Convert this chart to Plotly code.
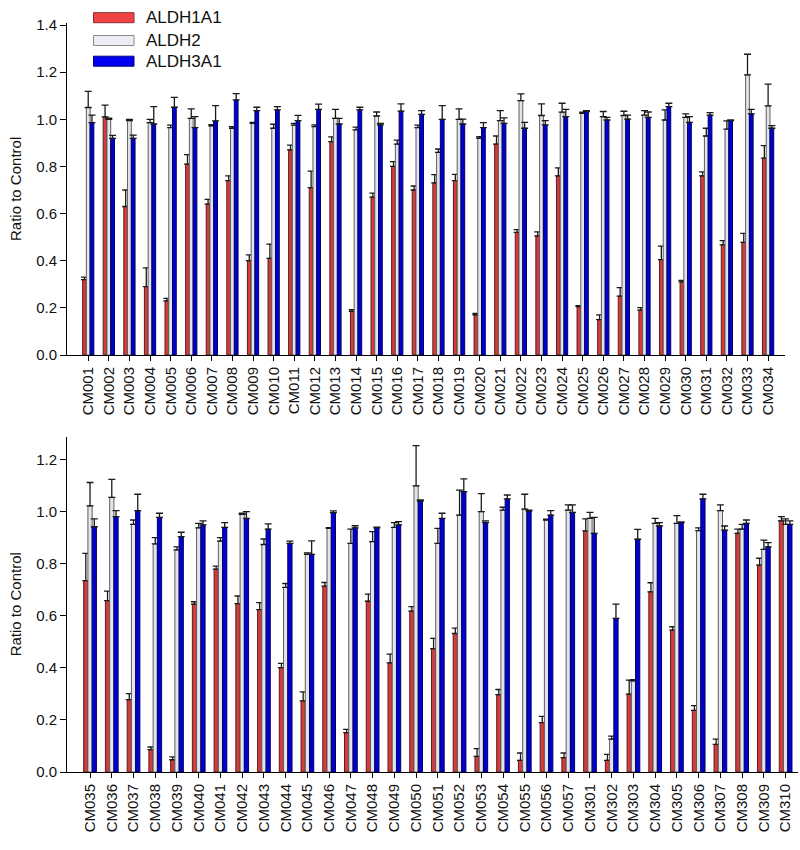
import plotly.graph_objects as go

# ---------------- data ----------------
cats_top = ["CM0%02d" % i for i in range(1, 35)]
aldh1a1_top = [0.32, 1.01, 0.63, 0.29, 0.23, 0.81, 0.64, 0.74, 0.40, 0.41, 0.87, 0.71,
               0.905, 0.185, 0.67, 0.80, 0.70, 0.73, 0.74, 0.17, 0.895, 0.52, 0.505, 0.76,
               0.205, 0.15, 0.25, 0.19, 0.405, 0.31, 0.76, 0.467, 0.478, 0.835]
aldh1a1_top_err = [0.01, 0.05, 0.07, 0.08, 0.01, 0.04, 0.02, 0.02, 0.025, 0.06, 0.02, 0.07,
                   0.02, 0.007, 0.017, 0.02, 0.017, 0.035, 0.026, 0.006, 0.034, 0.012, 0.017, 0.034,
                   0.004, 0.02, 0.036, 0.011, 0.057, 0.007, 0.017, 0.018, 0.038, 0.053]
aldh2_top = [1.05, 1.00, 0.994, 0.986, 0.965, 1.004, 0.972, 0.962, 0.983, 0.962, 0.975, 0.969,
             1.004, 0.955, 1.014, 0.895, 0.965, 0.86, 1.00, 0.919, 0.994, 1.079, 1.016, 1.03,
             1.025, 1.011, 1.016, 1.018, 0.997, 1.008, 0.929, 0.958, 1.188, 1.057]
aldh2_top_err = [0.068, 0.005, 0.006, 0.014, 0.01, 0.04, 0.005, 0.007, 0.004, 0.017, 0.008, 0.007,
                 0.038, 0.012, 0.017, 0.017, 0.01, 0.014, 0.044, 0.007, 0.043, 0.029, 0.049, 0.038,
                 0.005, 0.022, 0.018, 0.019, 0.043, 0.015, 0.033, 0.035, 0.088, 0.092]
aldh3a1_top = [0.986, 0.919, 0.919, 0.98, 1.051, 0.965, 0.993, 1.082, 1.037, 1.04, 0.994, 1.042,
               0.98, 1.04, 0.976, 1.035, 1.021, 1.00, 0.98, 0.965, 0.983, 0.962, 0.976, 1.011,
               1.033, 0.997, 1.001, 1.008, 1.054, 0.987, 1.018, 0.994, 1.023, 0.962]
aldh3a1_top_err = [0.032, 0.013, 0.014, 0.074, 0.042, 0.046, 0.065, 0.027, 0.014, 0.014, 0.023, 0.022,
                   0.024, 0.011, 0.007, 0.03, 0.016, 0.058, 0.021, 0.021, 0.023, 0.025, 0.018, 0.031,
                   0.004, 0.011, 0.017, 0.023, 0.014, 0.024, 0.01, 0.003, 0.019, 0.011]

cats_bot = ["CM0%02d" % i for i in range(35, 58)] + ["CM3%02d" % i for i in range(1, 11)]
aldh1a1_bot = [0.735, 0.658, 0.278, 0.086, 0.047, 0.645, 0.779, 0.647, 0.624, 0.401, 0.273,
               0.714, 0.151, 0.656, 0.419, 0.618, 0.474, 0.532, 0.06, 0.297, 0.045, 0.19, 0.055,
               0.926, 0.045, 0.299, 0.692, 0.545, 0.237, 0.106, 0.917, 0.795, 0.965]
aldh1a1_bot_err = [0.105, 0.037, 0.023, 0.01, 0.011, 0.009, 0.012, 0.029, 0.027, 0.016, 0.035,
                   0.014, 0.013, 0.027, 0.034, 0.017, 0.039, 0.021, 0.03, 0.02, 0.028, 0.024, 0.018,
                   0.046, 0.023, 0.054, 0.035, 0.013, 0.018, 0.02, 0.016, 0.026, 0.016]
aldh2_bot = [1.022, 1.055, 0.951, 0.876, 0.853, 0.938, 0.887, 0.99, 0.874, 0.709, 0.836,
             0.936, 0.878, 0.885, 0.94, 1.099, 0.878, 0.987, 1.0, 1.006, 1.01, 0.968, 1.006,
             0.974, 0.126, 0.35, 0.955, 0.955, 0.927, 1.004, 0.933, 0.855, 0.951]
aldh2_bot_err = [0.09, 0.069, 0.017, 0.024, 0.012, 0.017, 0.013, 0.004, 0.021, 0.015, 0.006,
                 0.003, 0.055, 0.038, 0.018, 0.155, 0.058, 0.096, 0.069, 0.011, 0.057, 0.003, 0.02,
                 0.023, 0.012, 0.005, 0.019, 0.03, 0.011, 0.022, 0.018, 0.036, 0.021]
aldh3a1_bot = [0.942, 0.981, 1.004, 0.978, 0.904, 0.949, 0.94, 0.974, 0.933, 0.878, 0.836,
               0.996, 0.938, 0.938, 0.949, 1.041, 0.974, 1.077, 0.958, 1.049, 1.003, 0.987, 0.997,
               0.917, 0.59, 0.894, 0.945, 0.958, 1.049, 0.929, 0.955, 0.865, 0.951]
aldh3a1_bot_err = [0.03, 0.023, 0.063, 0.016, 0.017, 0.016, 0.018, 0.026, 0.02, 0.009, 0.052,
                   0.007, 0.008, 0.003, 0.013, 0.004, 0.02, 0.049, 0.007, 0.015, 0.003, 0.017, 0.029,
                   0.061, 0.055, 0.038, 0.013, 0.003, 0.018, 0.016, 0.013, 0.016, 0.014]

series_names = ["ALDH1A1", "ALDH2", "ALDH3A1"]
legend_fill = ["#F04444", "#ECECF6", "#0000F0"]
legend_edge = ["#8A2C2C", "#8A8A8A", "#00007A"]
bar_fill = ["#D23C3C", "#E4E4EC", "#0000D2"]
bar_edge = ["#5E1C1C", "#5E5E5E", "#00005E"]

# ---------------- geometry ----------------
W, H = 800, 850
ML, MR, MT, MB = 67, 2, 23, 78
PW, PH = W - ML - MR, H - MT - MB
FONT = "Liberation Sans, Arial, sans-serif"


def px_x(p):
    return (p - ML) / PW


def px_y(p):
    return 1 - (p - MT) / PH


fig = go.Figure()

panels = [
    (cats_top, [aldh1a1_top, aldh2_top, aldh3a1_top],
     [aldh1a1_top_err, aldh2_top_err, aldh3a1_top_err], "x", "y", 0.182),
    (cats_bot, [aldh1a1_bot, aldh2_bot, aldh3a1_bot],
     [aldh1a1_bot_err, aldh2_bot_err, aldh3a1_bot_err], "x2", "y2", 0.195),
]

for cats, vals_list, errs_list, xa, ya, w in panels:
    for k in range(3):
        fig.add_trace(go.Bar(
            x=cats, y=vals_list[k], name=series_names[k],
            xaxis=xa, yaxis=ya, width=w, offset=(-1.5 + k) * w,
            marker=dict(color=bar_fill[k], line=dict(color=bar_edge[k], width=1)),
            error_y=dict(type="data", array=errs_list[k], arrayminus=[0] * len(cats),
                         symmetric=False, color="#1A1A1A", thickness=1.3, width=3.5),
            showlegend=False,
        ))

axis_common = dict(showline=True, linecolor="black", linewidth=1, showgrid=False,
                   zeroline=False, ticks="outside", tickcolor="black",
                   tickfont=dict(family=FONT, size=15, color="#111111"))

fig.update_layout(
    width=W, height=H, barmode="overlay",
    margin=dict(l=ML, r=MR, t=MT, b=MB),
    plot_bgcolor="white", paper_bgcolor="white",
    font=dict(family=FONT, color="black"),
    xaxis=dict(axis_common, domain=[0, px_x(785)], anchor="y",
               range=[-1.03, 33.82], ticklen=5, tickangle=-90,
               tickfont=dict(family=FONT, size=15, color="#111111")),
    yaxis=dict(axis_common, domain=[px_y(355), 1], anchor="x",
               range=[0, 1.4085], dtick=0.2, tickformat=".1f", ticklen=6),
    xaxis2=dict(axis_common, domain=[0, 1], anchor="y2",
                range=[-1.06, 32.57], ticklen=5, tickangle=-90,
                tickfont=dict(family=FONT, size=15, color="#111111")),
    yaxis2=dict(axis_common, domain=[0, px_y(436.7)], anchor="x2",
                range=[0, 1.288], dtick=0.2, tickformat=".1f", ticklen=6),
)

# y-axis titles
for yc in [(23 + 355) / 2, (436.7 + 772) / 2]:
    fig.add_annotation(text="Ratio to Control", xref="paper", yref="paper",
                       x=px_x(15), y=px_y(yc), xanchor="center", yanchor="middle",
                       textangle=-90, showarrow=False,
                       font=dict(family=FONT, size=15, color="#111111"))

# custom legend (wide swatches)
legend_rows = [17.7, 40.5, 61.2]
for k in range(3):
    yc = legend_rows[k]
    fig.add_shape(type="rect", xref="paper", yref="paper",
                  x0=px_x(93.5), x1=px_x(134), y0=px_y(yc - 5), y1=px_y(yc + 5),
                  fillcolor=legend_fill[k], line=dict(color=legend_edge[k], width=1))
    fig.add_annotation(text=series_names[k], xref="paper", yref="paper",
                       x=px_x(144), y=px_y(yc), xanchor="left", yanchor="middle",
                       showarrow=False, font=dict(family=FONT, size=17, color="#111111"))

fig.write_html("out.html", config={"displayModeBar": False},
               post_script="document.body.style.margin='0px';document.body.style.overflow='hidden';")
